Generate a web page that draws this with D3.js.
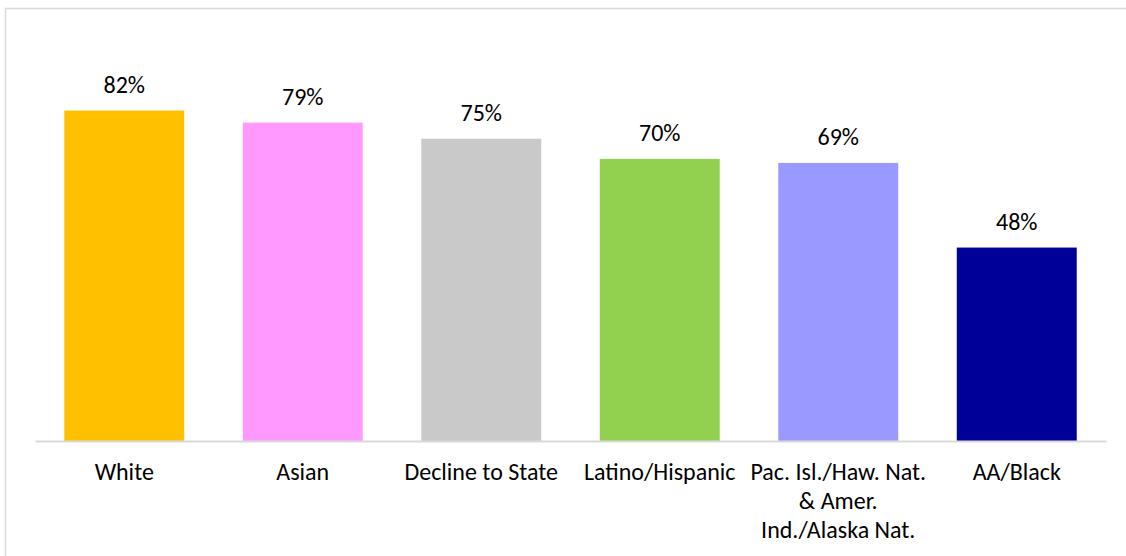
<!DOCTYPE html>
<html>
<head>
<meta charset="utf-8">
<script src="https://cdn.jsdelivr.net/npm/d3@7"></script>
<style>
  html, body { margin: 0; padding: 0; background: #fff; }
  svg { display: block; }
  text { font-family: Carlito, "Open Sans", sans-serif; fill: #000; }
</style>
</head>
<body>
<svg id="chart" width="1126" height="556"></svg>
<script>
const categories = ["White", "Asian", "Decline to State", "Latino/Hispanic", "Pac. Isl./Haw. Nat. & Amer. Ind./Alaska Nat.", "AA/Black"];
const categoryLines = [["White"], ["Asian"], ["Decline to State"], ["Latino/Hispanic"], ["Pac. Isl./Haw. Nat.", "& Amer.", "Ind./Alaska Nat."], ["AA/Black"]];
const values = [82, 79, 75, 70, 69, 48];
const colors = ["#FFC000", "#FF99FF", "#C9C9C9", "#92D050", "#9999FF", "#000099"];

const svg = d3.select("#chart");

// chart border (top + left visible)
svg.append("rect").attr("x", 5.5).attr("y", 8.5).attr("width", 1200).attr("height", 600)
  .attr("fill", "none").attr("stroke", "#D9D9D9").attr("stroke-width", 1.5);

const x = d3.scaleBand().domain(categories).range([35, 1106]).paddingInner(0.328).paddingOuter(0.164);
const y = d3.scaleLinear().domain([0, 100]).range([441, 38]);

svg.selectAll("rect.bar").data(values).join("rect")
  .attr("class", "bar")
  .attr("x", (d, i) => x(categories[i]))
  .attr("y", d => y(d))
  .attr("width", x.bandwidth())
  .attr("height", d => y(0) - y(d))
  .attr("fill", (d, i) => colors[i]);

// baseline axis
const axis = d3.axisBottom(x).tickSize(0).tickFormat("");
const g = svg.append("g").attr("transform", `translate(0,${y(0)})`).call(axis);
g.select(".domain").attr("stroke", "#D9D9D9").attr("stroke-width", 2);

// category labels
const lab = svg.selectAll("text.cat").data(categories).join("text")
  .attr("class", "cat")
  .attr("text-anchor", "middle")
  .attr("font-size", 24)
  .attr("transform", d => `translate(${x(d) + x.bandwidth() / 2},${480})`);
lab.each(function(d, i) {
  d3.select(this).selectAll("tspan").data(categoryLines[i]).join("tspan")
    .attr("x", 0).attr("dy", (t, j) => j === 0 ? 0 : 29).text(t => t);
});

// value labels
svg.selectAll("text.val").data(values).join("text")
  .attr("class", "val")
  .attr("text-anchor", "middle")
  .attr("font-size", 24)
  .attr("x", (d, i) => x(categories[i]) + x.bandwidth() / 2)
  .attr("y", d => y(d) - 18)
  .text(d => d + "%");
</script>
</body>
</html>
